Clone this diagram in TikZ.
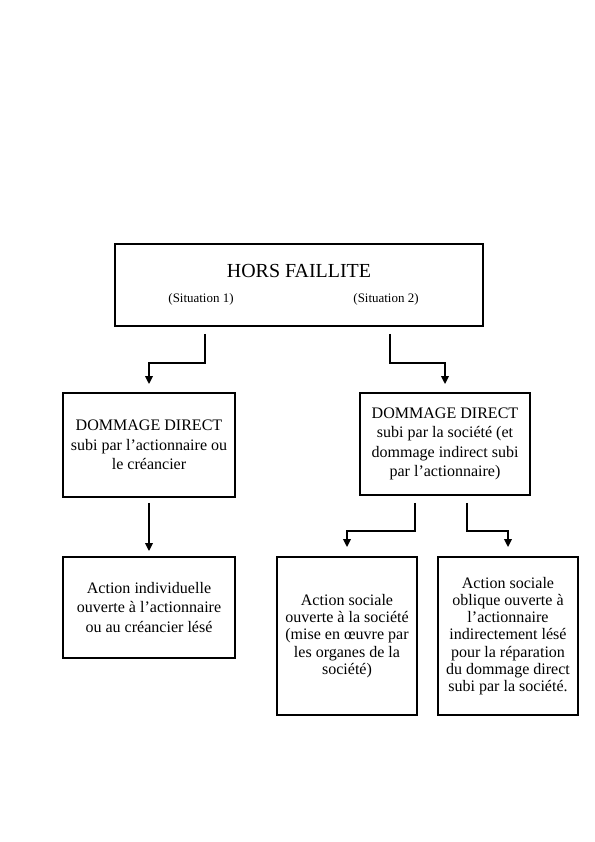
\documentclass[tikz,border=0pt]{standalone}
\usepackage{fontspec}
\setmainfont{Liberation Serif}
\usetikzlibrary{arrows.meta,positioning,calc}
\tikzset{
  caseBox/.style={draw=black,line width=1.8bp,fill=white,inner sep=0pt,
                  align=center,font=\fontsize{16.1}{19.5}\selectfont},
  caseTight/.style={caseBox,font=\fontsize{16.1}{17.3}\selectfont},
  titleText/.style={font=\fontsize{20}{24}\selectfont,inner sep=0pt,anchor=base},
  sitText/.style={font=\fontsize{13}{15}\selectfont,inner sep=0pt,anchor=base},
  stepFlow/.style={-{Triangle[length=8bp,width=7.5bp]},line width=1.7bp,
                   black,line join=miter},
}

\begin{document}
\begin{tikzpicture}[x=1bp,y=-1bp]
\useasboundingbox (0,0) rectangle (595,842);

% top level
\node[caseBox,minimum width=368bp,minimum height=82bp] (hors) at (299,285) {};
\node[titleText] (horsTitle) at (299,277) {HORS FAILLITE};
\node[sitText] (sit1) at (201,302) {(Situation 1)};
\node[sitText] (sit2) at (386,302) {(Situation 2)};

% kinds of damage
\node[caseBox,minimum width=172bp,minimum height=104bp] (dirL) at (149,445)
  {DOMMAGE DIRECT\\ subi par l’actionnaire ou\\ le créancier};
\node[caseBox,minimum width=170bp,minimum height=102bp] (dirR) at (445,444)
  {DOMMAGE DIRECT\\ subi par la société (et\\ dommage indirect subi\\ par l’actionnaire)};

% actions
\node[caseBox,minimum width=172bp,minimum height=101bp] (actL) at (149,607.5)
  {Action individuelle\\ ouverte à l’actionnaire\\ ou au créancier lésé};
\node[caseTight,minimum width=140bp,minimum height=158bp] (actS) at (347,636)
  {Action sociale\\ ouverte à la société\\ (mise en œuvre par\\ les organes de la\\ société)};
\node[caseTight,minimum width=140bp,minimum height=158bp] (actO) at (508,636)
  {Action sociale\\ oblique ouverte à\\ l’actionnaire\\ indirectement lésé\\ pour la réparation\\ du dommage direct\\ subi par la société.};

% connectors
\coordinate (s1) at ([xshift=-94bp,yshift=-7bp]hors.south);
\coordinate (s2) at ([xshift=91bp,yshift=-7bp]hors.south);
\draw[stepFlow,shorten >=8bp] (s1) -- ++(0,29) -| (dirL.north);
\draw[stepFlow,shorten >=8bp] (s2) -- ++(0,29) -| (dirR.north);

\coordinate (dL) at ([yshift=-5bp]dirL.south);
\draw[stepFlow,shorten >=5bp] (dL) -- (actL.north);

\coordinate (dR1) at ([xshift=-30bp,yshift=-7bp]dirR.south);
\coordinate (dR2) at ([xshift=22bp,yshift=-7bp]dirR.south);
\draw[stepFlow,shorten >=9bp] (dR1) -- ++(0,28) -| (actS.north);
\draw[stepFlow,shorten >=9bp] (dR2) -- ++(0,28) -| (actO.north);

\end{tikzpicture}
\end{document}
